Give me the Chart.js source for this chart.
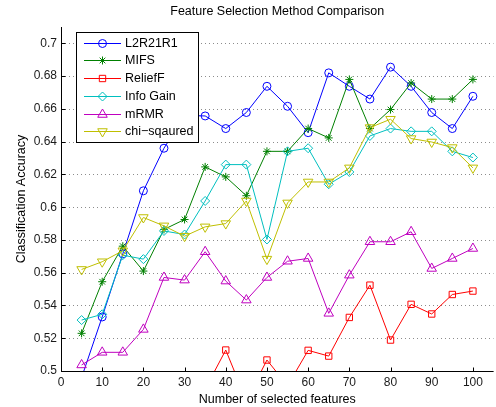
<!DOCTYPE html>
<html>
<head>
<meta charset="utf-8">
<script src="https://cdn.jsdelivr.net/npm/chart.js@4.4.1/dist/chart.umd.min.js"></script>
<style>
  html, body { margin: 0; padding: 0; background: #fff; overflow: hidden; }
  #wrap { position: relative; width: 500px; height: 407px; }
</style>
</head>
<body>
<div id="wrap"><canvas id="chart"></canvas></div>
<script>
const FONT = "'Liberation Sans', Arial, Helvetica, sans-serif";

// feature counts (x axis)
const featureCounts = [5, 10, 15, 20, 25, 30, 35, 40, 45, 50, 55, 60, 65, 70, 75, 80, 85, 90, 95, 100];

const l2r21r1 = [0.496, 0.533, 0.5715, 0.610, 0.636, 0.656, 0.6557, 0.648, 0.6578, 0.6738, 0.6616, 0.6455, 0.682, 0.6738, 0.666, 0.6855, 0.6738, 0.6578, 0.648, 0.6677];
const mifs = [0.523, 0.5545, 0.5762, 0.561, 0.5864, 0.5925, 0.6246, 0.6185, 0.607, 0.6341, 0.6341, 0.648, 0.6423, 0.678, 0.648, 0.6596, 0.6758, 0.666, 0.666, 0.678];
const reliefF = [0.462, 0.468, 0.475, 0.472, 0.480, 0.485, 0.489, 0.5128, 0.482, 0.5067, 0.491, 0.5126, 0.5091, 0.5327, 0.5524, 0.5189, 0.5407, 0.5348, 0.5467, 0.5488];
const infoGain = [0.5311, 0.5346, 0.5707, 0.5683, 0.5855, 0.5833, 0.6038, 0.626, 0.626, 0.5803, 0.6341, 0.636, 0.614, 0.6215, 0.6435, 0.648, 0.6463, 0.6463, 0.6341, 0.6303];
const mrmr = [0.5037, 0.5114, 0.5114, 0.5254, 0.5571, 0.5555, 0.5728, 0.5549, 0.5433, 0.5571, 0.567, 0.5687, 0.5352, 0.5585, 0.5789, 0.5789, 0.585, 0.5626, 0.5687, 0.5748];
const chiSquared = [0.562, 0.5667, 0.5734, 0.5937, 0.5886, 0.5823, 0.588, 0.590, 0.6038, 0.5683, 0.6026, 0.6154, 0.6154, 0.624, 0.6486, 0.6537, 0.6419, 0.6398, 0.6364, 0.624];

const xTicks = [0, 10, 20, 30, 40, 50, 60, 70, 80, 90, 100];
const yTicks = [0.5, 0.52, 0.54, 0.56, 0.58, 0.6, 0.62, 0.64, 0.66, 0.68, 0.7];

const toPoints = (vals) => vals.map((v, i) => ({ x: featureCounts[i], y: v }));

function series(label, vals, color, style, radius, rotation, order) {
    return {
        label,
        data: toPoints(vals),
        borderColor: color,
        borderWidth: 1,
        pointStyle: style,
        pointRadius: radius,
        pointRotation: rotation,
        pointBorderColor: color,
        pointBackgroundColor: 'rgba(0,0,0,0)',
        pointBorderWidth: 1,
        tension: 0,
        order,
        clip: { left: 6, top: 6, right: 6, bottom: 1 }
    };
}

const datasets = [
    series('L2R21R1', l2r21r1, '#0000ff', 'circle', 4, 0, 5),
    series('MIFS', mifs, '#008000', 'star', 4, 0, 4),
    series('ReliefF', reliefF, '#ff0000', 'rect', 4.5, 0, 3),
    series('Info Gain', infoGain, '#00bfbf', 'rectRot', 4.5, 0, 2),
    series('mRMR', mrmr, '#bf00bf', 'triangle', 5.5, 0, 1),
    series('chi\u2212sqaured', chiSquared, '#bfbf00', 'triangle', 5.5, 180, 0)
];

// dotted grid, axis lines and inward ticks like the original figure
const axesPlugin = {
    id: 'axesPlugin',
    beforeDatasetsDraw(chart) {
        const { ctx, chartArea: a, scales: { y } } = chart;
        ctx.save();
        ctx.strokeStyle = '#8c8c8c';
        ctx.lineWidth = 1;
        ctx.setLineDash([1, 3]);
        yTicks.forEach(v => {
            const py = Math.round(y.getPixelForValue(v)) + 0.5;
            ctx.beginPath();
            ctx.moveTo(a.left, py);
            ctx.lineTo(a.right, py);
            ctx.stroke();
        });
        ctx.restore();
    },
    afterDatasetsDraw(chart) {
        const { ctx, chartArea: a, scales: { x, y } } = chart;
        ctx.save();
        ctx.strokeStyle = '#000';
        ctx.lineWidth = 1;
        const left = Math.round(a.left) + 0.5;
        const bottom = Math.round(a.bottom) + 0.5;
        ctx.beginPath();
        ctx.moveTo(left, a.top);
        ctx.lineTo(left, bottom);
        ctx.lineTo(a.right, bottom);
        yTicks.forEach(v => {
            const py = Math.round(y.getPixelForValue(v)) + 0.5;
            ctx.moveTo(left, py);
            ctx.lineTo(left + 4, py);
        });
        xTicks.forEach(v => {
            const px = Math.round(x.getPixelForValue(v)) + 0.5;
            ctx.moveTo(px, bottom);
            ctx.lineTo(px, bottom - 4);
        });
        ctx.stroke();

        // title centred over the axes
        ctx.fillStyle = '#000';
        ctx.font = '12.5px ' + FONT;
        ctx.textAlign = 'center';
        ctx.textBaseline = 'middle';
        ctx.fillText('Feature Selection Method Comparison', (a.left + a.right) / 2, 12);
        ctx.restore();
    }
};

// boxed legend sitting inside the plot, top left
const legendPlugin = {
    id: 'boxLegend',
    afterDraw(chart) {
        const { ctx } = chart;
        const box = { left: 76.5, top: 32.5, w: 122, h: 110 };
        ctx.save();
        ctx.fillStyle = '#fff';
        ctx.fillRect(box.left, box.top, box.w, box.h);
        ctx.strokeStyle = '#000';
        ctx.lineWidth = 1;
        ctx.strokeRect(box.left, box.top, box.w, box.h);
        ctx.font = '12.5px ' + FONT;
        ctx.textBaseline = 'middle';
        ctx.textAlign = 'left';
        chart.data.datasets.forEach((ds, i) => {
            const yy = Math.round(42.7 + i * 17.7) + 0.5;
            ctx.strokeStyle = ds.borderColor;
            ctx.lineWidth = 1;
            ctx.beginPath();
            ctx.moveTo(84, yy);
            ctx.lineTo(121, yy);
            ctx.stroke();
            ctx.fillStyle = 'rgba(0,0,0,0)';
            Chart.helpers.drawPoint(ctx, {
                pointStyle: ds.pointStyle,
                radius: ds.pointRadius,
                rotation: ds.pointRotation,
                borderWidth: 1
            }, 102.5, yy);
            ctx.fillStyle = '#000';
            ctx.fillText(ds.label, 125, yy + 0.5);
        });
        ctx.restore();
    }
};

new Chart(document.getElementById('chart'), {
    type: 'line',
    data: { datasets },
    options: {
        responsive: true,
        maintainAspectRatio: false,
        animation: false,
        layout: { padding: { top: 27, right: 1.5, left: 0, bottom: 0 } },
        plugins: {
            legend: { display: false },
            title: { display: false },
            tooltip: { enabled: false }
        },
        scales: {
            x: {
                type: 'linear',
                min: 0,
                max: 105,
                afterBuildTicks: (s) => { s.ticks = xTicks.map(v => ({ value: v })); },
                afterFit: (s) => { s.height = 36; },
                grid: { display: false, drawTicks: false },
                border: { display: false },
                ticks: {
                    padding: 4,
                    color: '#1a1a1a',
                    font: { family: FONT, size: 12 },
                    callback: (v) => String(v)
                },
                title: {
                    display: true,
                    text: 'Number of selected features',
                    color: '#000',
                    font: { family: FONT, size: 12.5 },
                    padding: { top: 3.5, bottom: 0 }
                }
            },
            y: {
                type: 'linear',
                min: 0.5,
                max: 0.71,
                afterBuildTicks: (s) => { s.ticks = yTicks.map(v => ({ value: v })); },
                afterFit: (s) => { s.width = 61; },
                grid: { display: false, drawTicks: false },
                border: { display: false },
                ticks: {
                    padding: 4,
                    color: '#1a1a1a',
                    font: { family: FONT, size: 12 },
                    callback: (v) => String(Number(v.toFixed(2)))
                },
                title: {
                    display: true,
                    text: 'Classification Accuracy',
                    color: '#000',
                    font: { family: FONT, size: 12.5 },
                    padding: { top: 14, bottom: 0 }
                }
            }
        }
    },
    plugins: [axesPlugin, legendPlugin]
});
</script>
</body>
</html>
